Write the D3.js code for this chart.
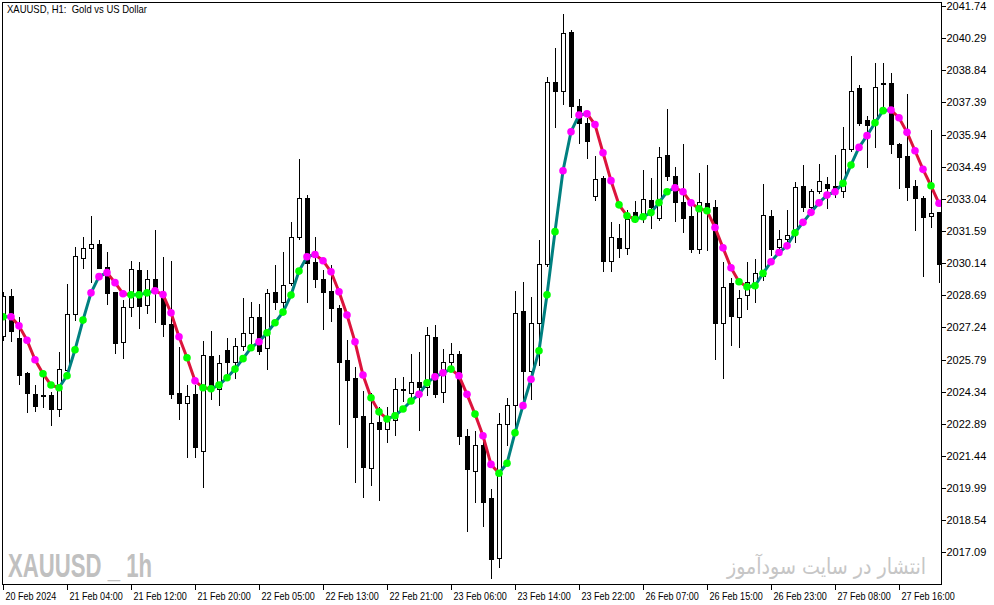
<!DOCTYPE html>
<html>
<head>
<meta charset="utf-8">
<script src="https://cdn.jsdelivr.net/npm/d3@7"></script>
<style>
html,body{margin:0;padding:0;background:#fff;}
svg{display:block;}
</style>
</head>
<body>
<svg id="chart" width="994" height="605"></svg>
<script>
// ---- data ----
const title = "XAUUSD, H1:  Gold vs US Dollar";
const watermarkLeft = "XAUUSD _ 1h";
const watermarkRight = "انتشار در سایت سودآموز";

const xTickIndex = [0, 8, 16, 24, 32, 40, 48, 56, 64, 72, 80, 88, 96, 104, 112];
const xTickLabels = ["20 Feb 2024", "21 Feb 04:00", "21 Feb 12:00", "21 Feb 20:00", "22 Feb 05:00",
  "22 Feb 13:00", "22 Feb 21:00", "23 Feb 06:00", "23 Feb 14:00", "23 Feb 22:00",
  "26 Feb 07:00", "26 Feb 15:00", "26 Feb 23:00", "27 Feb 08:00", "27 Feb 16:00"];
const yTicks = [2041.74, 2040.29, 2038.84, 2037.39, 2035.94, 2034.49, 2033.04, 2031.59, 2030.14,
  2028.69, 2027.24, 2025.79, 2024.34, 2022.89, 2021.44, 2019.99, 2018.54, 2017.09];

const openP = [2026.86, 2028.65, 2026.75, 2025.19, 2024.23, 2024.17, 2024.19, 2023.54, 2025.32, 2027.83,
 2030.36, 2030.81, 2031.00, 2029.95, 2028.82, 2026.57, 2028.15, 2029.81, 2028.25, 2029.42,
 2028.85, 2027.39, 2024.26, 2023.81, 2024.22, 2021.65, 2025.95, 2024.45, 2026.22, 2025.69,
 2026.41, 2026.97, 2027.69, 2026.30, 2028.84, 2028.37, 2029.23, 2031.30, 2033.06, 2030.19,
 2029.41, 2028.88, 2028.13, 2025.77, 2024.97, 2023.25, 2020.91, 2022.96, 2022.64, 2023.05,
 2024.46, 2024.29, 2024.76, 2024.53, 2026.79, 2024.31, 2025.66, 2026.04, 2022.32, 2020.76,
 2021.95, 2019.56, 2016.84, 2022.88, 2023.74, 2028.00, 2025.28, 2027.46, 2030.12, 2038.30,
 2037.92, 2040.55, 2037.24, 2036.47, 2033.19, 2033.97, 2030.25, 2031.26, 2030.81, 2032.43,
 2032.23, 2032.99, 2032.16, 2035.02, 2034.09, 2032.91, 2032.26, 2030.76, 2032.84, 2032.66,
 2027.42, 2029.23, 2027.73, 2028.70, 2029.23, 2029.56, 2032.26, 2030.85, 2031.21, 2031.45,
 2033.60, 2032.66, 2033.39, 2033.69, 2033.62, 2033.41, 2035.27, 2038.03, 2036.58, 2036.42,
 2038.25, 2038.25, 2035.50, 2034.97, 2033.62, 2033.06, 2032.26, 2032.43];

const highP = [2028.84, 2028.97, 2027.71, 2025.23, 2024.64, 2025.09, 2024.34, 2026.14, 2029.20, 2030.88,
 2031.30, 2032.26, 2031.18, 2030.63, 2028.84, 2028.47, 2030.23, 2030.19, 2029.83, 2031.63,
 2030.40, 2030.23, 2026.35, 2024.64, 2024.64, 2026.62, 2027.08, 2025.99, 2026.75, 2026.77,
 2028.55, 2028.37, 2028.28, 2028.96, 2030.05, 2030.64, 2032.01, 2034.84, 2033.21, 2031.30,
 2029.83, 2030.05, 2028.25, 2026.67, 2025.46, 2024.37, 2024.28, 2023.66, 2023.66, 2024.96,
 2025.00, 2026.04, 2026.13, 2027.27, 2027.35, 2026.26, 2026.53, 2026.19, 2022.65, 2022.57,
 2022.16, 2019.93, 2023.39, 2024.05, 2028.89, 2029.29, 2028.62, 2031.20, 2038.52, 2039.83,
 2041.38, 2040.66, 2037.53, 2036.69, 2034.97, 2034.07, 2031.99, 2031.90, 2032.54, 2032.94,
 2034.34, 2033.97, 2035.39, 2037.09, 2034.49, 2035.51, 2032.99, 2034.20, 2034.57, 2032.99,
 2030.18, 2029.45, 2028.93, 2030.18, 2030.31, 2033.69, 2032.54, 2031.63, 2032.54, 2033.81,
 2034.57, 2033.47, 2034.61, 2034.04, 2035.02, 2036.29, 2039.48, 2038.18, 2036.78, 2039.18,
 2039.18, 2038.70, 2035.56, 2037.76, 2033.89, 2033.17, 2036.14, 2032.46];

const lowP = [2026.67, 2026.62, 2024.68, 2023.42, 2023.48, 2023.63, 2022.83, 2023.25, 2025.24, 2027.57,
 2029.93, 2029.27, 2029.92, 2028.28, 2026.10, 2025.84, 2027.75, 2027.22, 2027.87, 2027.50,
 2026.86, 2024.04, 2023.09, 2021.38, 2021.40, 2020.05, 2023.99, 2023.74, 2025.17, 2024.97,
 2026.22, 2026.37, 2026.04, 2025.35, 2028.07, 2028.17, 2029.15, 2031.21, 2028.37, 2029.05,
 2027.15, 2027.54, 2022.87, 2021.86, 2020.28, 2019.60, 2020.13, 2019.45, 2022.08, 2022.38,
 2023.92, 2024.11, 2022.61, 2024.19, 2024.11, 2023.89, 2025.54, 2022.00, 2018.05, 2019.38,
 2018.28, 2015.92, 2016.43, 2021.93, 2022.49, 2023.83, 2024.01, 2025.54, 2030.03, 2036.29,
 2037.32, 2036.72, 2035.57, 2034.90, 2032.99, 2029.80, 2029.80, 2030.43, 2030.55, 2031.99,
 2032.01, 2031.74, 2032.08, 2033.89, 2032.05, 2031.53, 2030.64, 2030.61, 2030.73, 2025.80,
 2024.94, 2026.44, 2026.37, 2028.06, 2028.40, 2029.38, 2030.50, 2030.63, 2031.09, 2031.10,
 2032.50, 2032.54, 2033.29, 2032.61, 2033.14, 2033.14, 2035.20, 2036.37, 2034.49, 2035.39,
 2037.05, 2035.09, 2033.51, 2033.01, 2031.63, 2029.57, 2031.78, 2029.27];

const closeP = [2028.67, 2027.08, 2025.09, 2024.26, 2023.71, 2024.14, 2023.54, 2025.36, 2027.83, 2030.46,
 2030.81, 2030.99, 2029.93, 2028.80, 2026.52, 2028.15, 2029.86, 2028.22, 2029.41, 2028.84,
 2027.38, 2024.22, 2023.81, 2024.16, 2021.83, 2025.98, 2024.49, 2025.62, 2025.69, 2026.40,
 2026.97, 2027.69, 2026.19, 2028.78, 2028.37, 2029.14, 2031.30, 2033.06, 2030.16, 2029.41,
 2028.85, 2028.13, 2025.69, 2024.86, 2023.21, 2020.95, 2022.91, 2022.64, 2023.01, 2024.48,
 2024.43, 2024.76, 2024.53, 2026.89, 2024.23, 2025.66, 2026.04, 2022.35, 2020.83, 2021.95,
 2019.36, 2016.77, 2022.89, 2023.75, 2027.87, 2025.27, 2027.46, 2030.12, 2038.30, 2037.92,
 2040.51, 2037.24, 2036.47, 2035.66, 2033.92, 2030.25, 2031.30, 2030.81, 2032.15, 2032.11,
 2033.02, 2032.66, 2034.93, 2034.08, 2032.91, 2032.19, 2030.76, 2032.88, 2032.46, 2027.42,
 2029.05, 2027.74, 2028.55, 2029.30, 2029.68, 2032.31, 2030.78, 2031.21, 2031.43, 2033.57,
 2032.66, 2033.39, 2033.84, 2033.54, 2033.39, 2035.27, 2037.89, 2036.47, 2036.39, 2038.07,
 2038.20, 2035.50, 2034.94, 2033.59, 2033.06, 2032.21, 2032.39, 2030.09];

const maP = [2027.72, 2027.72, 2027.31, 2026.66, 2025.78, 2025.15, 2024.64, 2024.52, 2025.06, 2026.23,
 2027.57, 2028.80, 2029.53, 2029.71, 2029.26, 2028.76, 2028.71, 2028.71, 2028.80, 2028.89,
 2028.72, 2027.90, 2026.82, 2025.87, 2024.83, 2024.52, 2024.47, 2024.64, 2024.97, 2025.36,
 2025.83, 2026.32, 2026.59, 2027.00, 2027.45, 2027.93, 2028.70, 2029.78, 2030.43, 2030.53,
 2030.25, 2029.75, 2028.85, 2027.80, 2026.59, 2025.09, 2024.07, 2023.43, 2023.11, 2023.25,
 2023.56, 2023.92, 2024.22, 2024.74, 2025.01, 2025.19, 2025.36, 2025.06, 2024.22, 2023.33,
 2022.35, 2021.06, 2020.66, 2021.11, 2022.49, 2023.71, 2024.90, 2026.19, 2028.71, 2031.56,
 2034.31, 2036.07, 2036.82, 2036.88, 2036.39, 2035.12, 2033.86, 2032.77, 2032.28, 2032.12,
 2032.23, 2032.42, 2032.87, 2033.36, 2033.54, 2033.36, 2032.86, 2032.59, 2032.50, 2031.75,
 2030.83, 2029.93, 2029.30, 2029.07, 2029.12, 2029.68, 2030.20, 2030.62, 2030.92, 2031.51,
 2031.98, 2032.43, 2032.86, 2033.21, 2033.36, 2033.74, 2034.57, 2035.36, 2035.89, 2036.47,
 2037.02, 2037.05, 2036.70, 2036.04, 2035.21, 2034.37, 2033.63, 2032.84];

// 1 = lime dot, 0 = magenta dot
const dotUp = [1,0,0,0,0,1,1,1,1,1, 1,0,0,0,0,0,1,1,1,0, 0,0,0,1,0,1,1,1,1,1,
 1,1,0,1,1,1,1,1,0,0, 0,0,0,0,0,0,1,1,1,1, 1,1,0,1,0,0,1,0,0,1,
 0,0,1,1,1,0,0,1,1,1, 0,0,0,0,0,0,0,1,1,1, 1,1,1,1,0,0,0,1,1,0,
 0,0,1,1,1,1,0,0,0,1, 0,0,0,0,0,1,1,0,0,1, 1,0,0,0,0,0,1,0];

// ---- layout ----
const plot = {left: 2, top: 2, right: 941, bottom: 584};
const n = openP.length;
const uiFont = "Liberation Sans, Arial, sans-serif";

const svg = d3.select("#chart");
const x = d3.scaleLinear().domain([0, n - 1]).range([3, 3 + 8 * (n - 1)]);
const y = d3.scaleLinear().domain([2017.09, 2041.74]).range([552.4, 6]);

svg.append("defs").append("clipPath").attr("id", "clip")
  .append("rect").attr("x", plot.left).attr("y", plot.top)
  .attr("width", plot.right - plot.left).attr("height", plot.bottom - plot.top);

// watermarks
svg.append("text")
  .attr("x", 8).attr("y", 577)
  .attr("font-family", uiFont)
  .attr("font-weight", "bold").attr("font-size", 33)
  .attr("fill", "#c0c0c0")
  .attr("textLength", 144).attr("lengthAdjust", "spacingAndGlyphs")
  .text(watermarkLeft);
const wr = svg.append("text")
  .attr("x", 926).attr("y", 574)
  .attr("text-anchor", "end")
  .attr("font-family", "DejaVu Sans, sans-serif")
  .attr("font-size", 22)
  .attr("fill", "#c6c6c6")
  .text(watermarkRight);

const g = svg.append("g").attr("clip-path", "url(#clip)");

// candles
const idx = d3.range(n);
const cg = g.append("g").attr("shape-rendering", "crispEdges");
idx.forEach(i => {
  const cx = Math.round(x(i));
  const o = openP[i], c = closeP[i];
  cg.append("line")
    .attr("x1", cx + 0.5).attr("x2", cx + 0.5)
    .attr("y1", Math.round(y(highP[i]))).attr("y2", Math.round(y(lowP[i])) + 1)
    .attr("stroke", "#000").attr("stroke-width", 1);
  const top = Math.round(y(Math.max(o, c)));
  const bot = Math.round(y(Math.min(o, c)));
  const bull = c > o;
  if (bot - top < 1) {
    cg.append("line")
      .attr("x1", cx - 2).attr("x2", cx + 3)
      .attr("y1", top + 0.5).attr("y2", top + 0.5)
      .attr("stroke", "#000").attr("stroke-width", 1);
  } else {
    cg.append("rect")
      .attr("x", cx - 2 + 0.5).attr("y", top + 0.5)
      .attr("width", 4).attr("height", bot - top)
      .attr("fill", bull ? "#fff" : "#000")
      .attr("stroke", "#000").attr("stroke-width", 1);
  }
});

// moving average line, coloured by slope
const line = d3.line().x(d => x(d[0])).y(d => y(d[1]));
const lg = g.append("g");
for (let i = 0; i < n - 1; i++) {
  const down = maP[i + 1] < maP[i];
  lg.append("path")
    .attr("d", line([[i, maP[i]], [i + 1, maP[i + 1]]]))
    .attr("fill", "none")
    .attr("stroke", down ? "#dc143c" : "#008080")
    .attr("stroke-width", 3)
    .attr("stroke-linecap", "round");
}

// dots
g.append("g").selectAll("circle").data(idx).join("circle")
  .attr("cx", i => x(i)).attr("cy", i => y(maP[i]))
  .attr("r", 3.8)
  .attr("fill", i => dotUp[i] ? "#00ff00" : "#ff00ff");

// frame
const fg = svg.append("g").attr("shape-rendering", "crispEdges").attr("stroke", "#000").attr("fill", "none");
fg.append("rect").attr("x", plot.left + 0.5).attr("y", plot.top + 0.5)
  .attr("width", plot.right - plot.left).attr("height", plot.bottom - plot.top);

// y axis (right)
const yAxis = d3.axisRight(y).tickValues(yTicks).tickFormat(d3.format(".2f")).tickSize(4).tickPadding(1);
const ya = svg.append("g").attr("transform", `translate(${plot.right + 0.5},0)`).call(yAxis);
ya.select(".domain").remove();
ya.selectAll("line").attr("shape-rendering", "crispEdges");
ya.selectAll("text").attr("font-family", uiFont).attr("font-size", 11).attr("fill", "#000");

// x axis (bottom)
const xAxis = d3.axisBottom(x).tickValues(xTickIndex).tickFormat((d, k) => xTickLabels[k]).tickSize(5).tickPadding(3);
const xa = svg.append("g").attr("transform", `translate(0,${plot.bottom + 0.5})`).call(xAxis);
xa.select(".domain").remove();
xa.selectAll(".tick").attr("transform", d => `translate(${Math.round(x(d)) + 0.5},0)`);
xa.selectAll("line").attr("shape-rendering", "crispEdges");
xa.selectAll("text").attr("text-anchor", "start").attr("x", 2)
  .attr("font-family", uiFont).attr("font-size", 10.5).attr("fill", "#000")
  .each(function() {
    const w = this.getComputedTextLength();
    d3.select(this).attr("textLength", w * 0.86).attr("lengthAdjust", "spacingAndGlyphs");
  });

// title
const tt = svg.append("text").attr("x", 7).attr("y", 13)
  .attr("font-family", uiFont).attr("font-size", 10.5)
  .attr("fill", "#000")
  .attr("xml:space", "preserve")
  .text(title);
tt.attr("textLength", 140).attr("lengthAdjust", "spacingAndGlyphs");

// keep the Persian watermark to the reference width
const ww = wr.node().getComputedTextLength();
if (ww > 0) wr.attr("textLength", 199).attr("lengthAdjust", "spacingAndGlyphs");
</script>
</body>
</html>
